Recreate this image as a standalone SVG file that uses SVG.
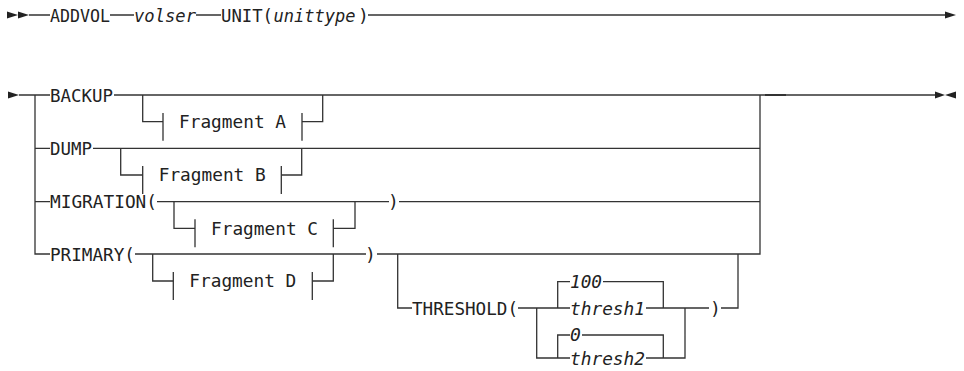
<svg xmlns="http://www.w3.org/2000/svg" width="964" height="371" viewBox="0 0 964 371">
<style>
.t{font-family:"DejaVu Sans Mono","Liberation Mono",monospace;font-size:18px;fill:#222}
.i{font-style:italic}
.l{stroke:#333;stroke-width:1.3;fill:none}
.a{fill:#222}
</style>
<rect width="964" height="371" fill="#fff"/>
<g id="connectors" class="l">
<path d="M29,15H50M110,15H134M196,15H221M368,15H945"/>
<path d="M19,95H50M35,95V254H50M35,148.3H50M35,201.7H50"/>
<path d="M114,95H935"/>
<path d="M142.7,95V121.7H163M302,121.7H322.7V95"/>
<path d="M93,148.3H760"/>
<path d="M120.7,148.3V175H142.7M281.3,175H301.7V148.3"/>
<path d="M157,201.7H389M399,201.7H760"/>
<path d="M174,201.7V228.3H195M333.3,228.3H355V201.7"/>
<path d="M135,254H366M377,254H760V95"/>
<path d="M152.7,254V281H173.3M312.3,281H333.3V254"/>
<path d="M397.7,254V308H412M518,308H570M536.7,308V358H570M557.7,308V281.7H570M557.7,358V335H570"/>
<path d="M603,281.7H663.3V308M646,308H709M582,335H663.3V358M646,358H685V308M721,308H738V254"/>
<path d="M765,95H786" stroke-width="2"/>
</g>
<g id="start1"><polygon class="a" points="7,11.5 18,15 7,18.5"/><polygon class="a" points="18,11.5 29,15 18,18.5"/></g>
<g id="end1"><polygon class="a" points="945,11.5 956,15 945,18.5"/></g>
<g id="start2"><polygon class="a" points="8,91.5 19,95 8,98.5"/></g>
<g id="end2"><polygon class="a" points="935,91.5 945,95 935,98.5"/><polygon class="a" points="956,91.5 945,95 956,98.5"/></g>
<g id="addvol"><text class="t" x="50" y="21.5" textLength="60" lengthAdjust="spacingAndGlyphs">ADDVOL</text></g>
<g id="volser"><text class="t i" x="134" y="21.5" textLength="62" lengthAdjust="spacingAndGlyphs">volser</text></g>
<g id="unit"><text class="t" x="221" y="21.5" textLength="52" lengthAdjust="spacingAndGlyphs">UNIT(</text><text class="t i" x="273.5" y="21.5" style="font-size:17px">unittype</text><text class="t" x="358" y="21.5">)</text></g>
<g id="backup"><text class="t" x="50" y="101.5" textLength="63" lengthAdjust="spacingAndGlyphs">BACKUP</text></g>
<g id="fragA"><path class="l" d="M163,113V140.7M302,113V140.7"/><text class="t" x="179" y="128" textLength="107" lengthAdjust="spacingAndGlyphs">Fragment A</text></g>
<g id="dump"><text class="t" x="50" y="154.8" textLength="42" lengthAdjust="spacingAndGlyphs">DUMP</text></g>
<g id="fragB"><path class="l" d="M142.7,166V194M281.3,166V194"/><text class="t" x="158.7" y="181.3" textLength="107" lengthAdjust="spacingAndGlyphs">Fragment B</text></g>
<g id="migration"><text class="t" x="50" y="208.2" textLength="107" lengthAdjust="spacingAndGlyphs">MIGRATION(</text><text class="t" x="388" y="208.2">)</text></g>
<g id="fragC"><path class="l" d="M195,219.3V247.3M333.3,219.3V247.3"/><text class="t" x="211" y="234.6" textLength="107" lengthAdjust="spacingAndGlyphs">Fragment C</text></g>
<g id="primary"><text class="t" x="50" y="260.5" textLength="85" lengthAdjust="spacingAndGlyphs">PRIMARY(</text><text class="t" x="365" y="260.5">)</text></g>
<g id="fragD"><path class="l" d="M173.3,272V300M312.3,272V300"/><text class="t" x="189.3" y="287.3" textLength="107" lengthAdjust="spacingAndGlyphs">Fragment D</text></g>
<g id="threshold"><text class="t" x="412" y="314.5" textLength="106" lengthAdjust="spacingAndGlyphs">THRESHOLD(</text><text class="t" x="710" y="314.5">)</text></g>
<g id="v100"><text class="t i" x="570" y="288" textLength="32" lengthAdjust="spacingAndGlyphs">100</text></g>
<g id="thresh1"><text class="t i" x="570" y="314.5" textLength="75" lengthAdjust="spacingAndGlyphs">thresh1</text></g>
<g id="v0"><text class="t i" x="570" y="341.3">0</text></g>
<g id="thresh2"><text class="t i" x="570" y="364.5" textLength="75" lengthAdjust="spacingAndGlyphs">thresh2</text></g>
</svg>
